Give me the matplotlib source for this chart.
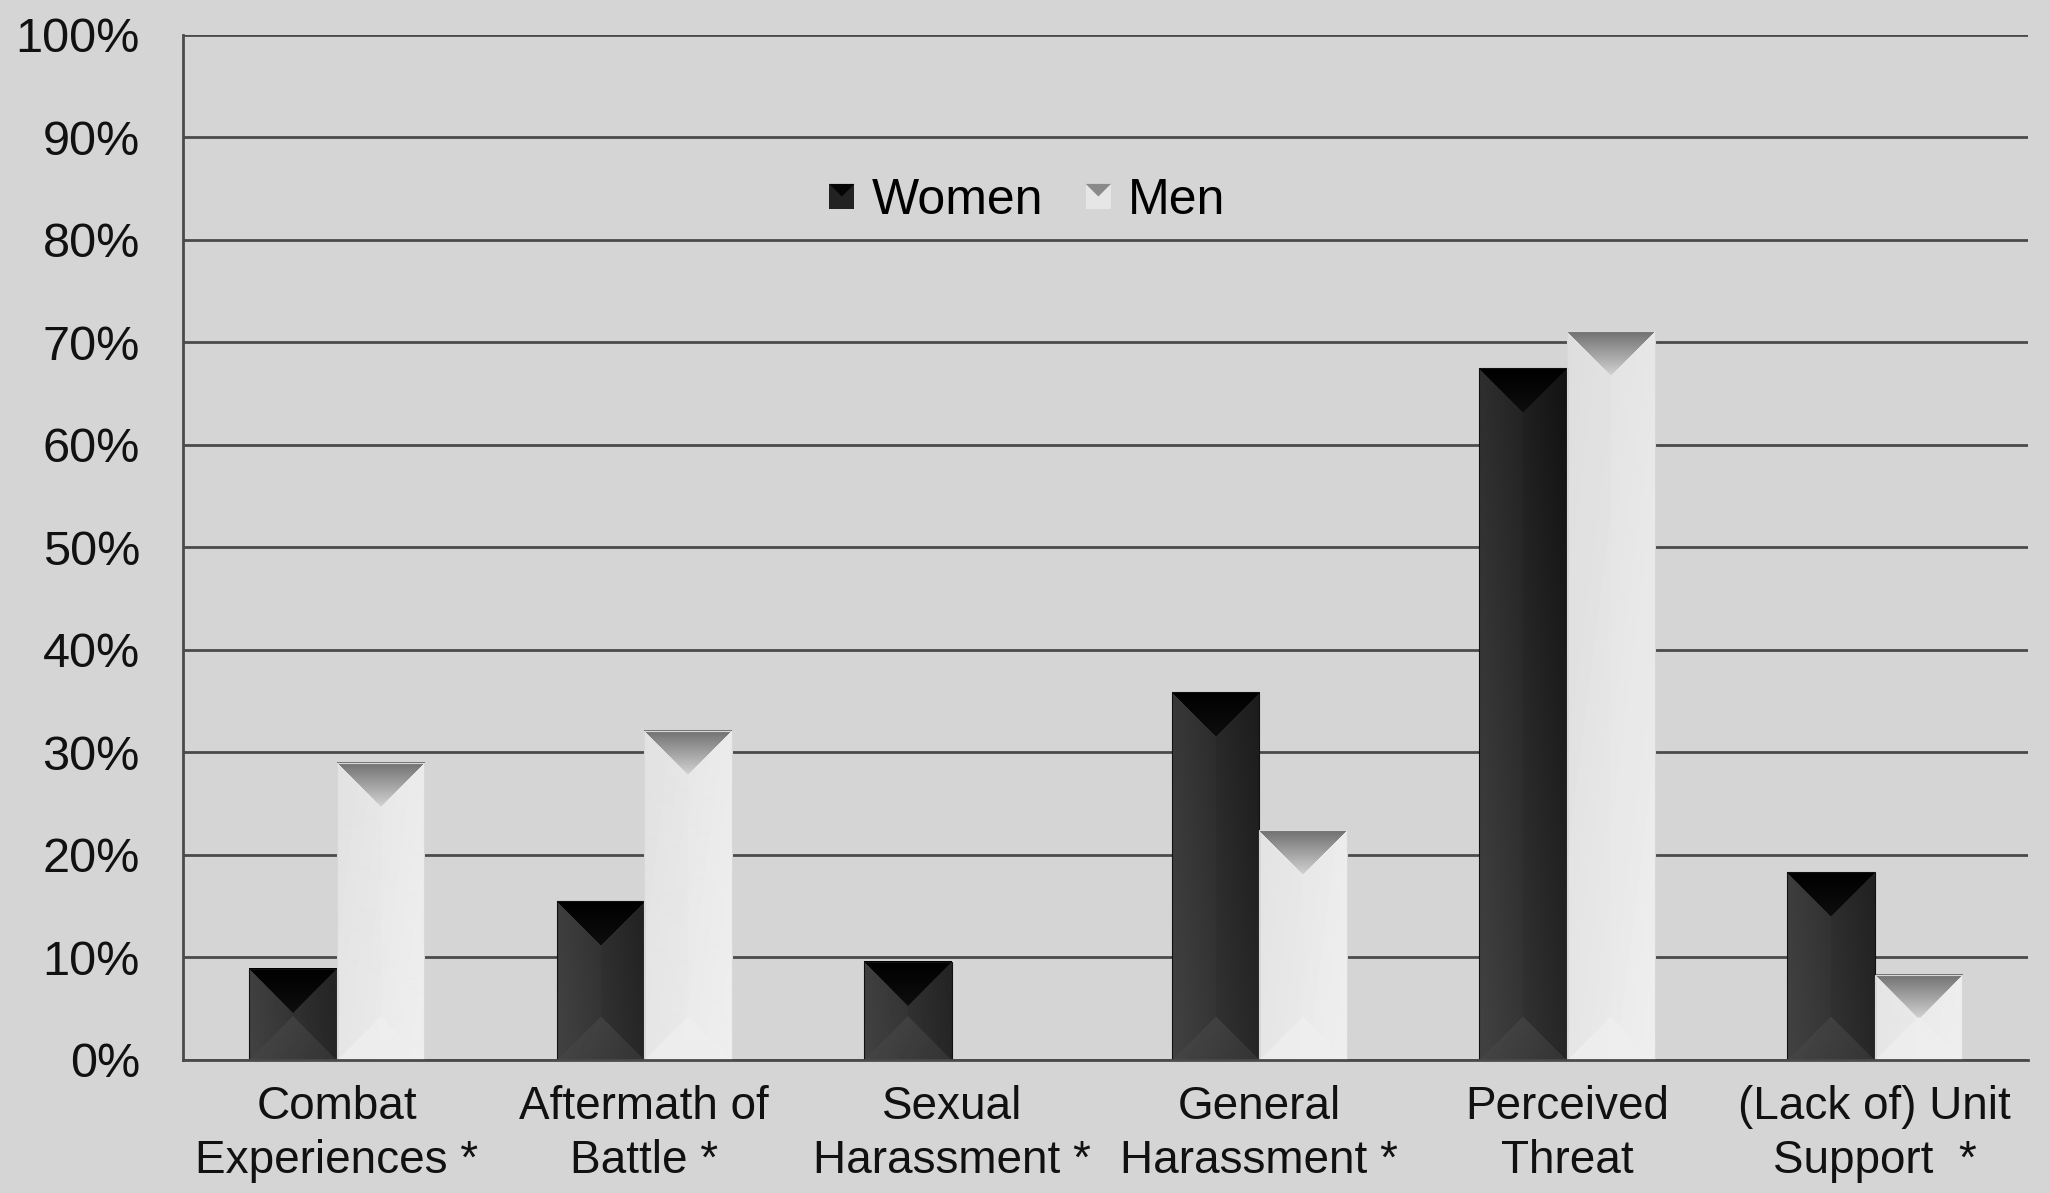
import numpy as np
import matplotlib
matplotlib.use("Agg")
import matplotlib.pyplot as plt
from matplotlib.patches import Rectangle, Polygon
from matplotlib.legend_handler import HandlerBase

# ---- data -----------------------------------------------------------------
categories = [
    "Combat\nExperiences *",
    "Aftermath of\nBattle *",
    "Sexual\nHarassment *",
    "General\nHarassment *",
    "Perceived\nThreat",
    "(Lack of) Unit\nSupport  *",
]
women = [8.9, 15.5, 9.6, 35.9, 67.5, 18.3]
men = [29.0, 32.1, 0.0, 22.4, 71.1, 8.3]
series_names = ["Women", "Men"]
y_ticks = list(range(0, 101, 10))
y_tick_labels = [f"{v}%" for v in y_ticks]

# ---- style ----------------------------------------------------------------
BG = "#d5d5d5"
GRID = "#4a4a4a"
plt.rcParams["font.family"] = ["Liberation Sans", "DejaVu Sans"]

DPI = 100
fig = plt.figure(figsize=(20.49, 11.93), dpi=DPI, facecolor=BG)
ax = fig.add_axes([0.0893, 0.1115, 0.9006, 0.8592], facecolor=BG)

n = len(categories)
bar_w = 0.285
x = np.arange(n)

ax.set_xlim(-0.5, n - 0.5)
ax.set_ylim(0, 100)

# pixel scale of the data axes (for 45-degree bevels)
pos = ax.get_position()
ax_w_px = pos.width * fig.get_figwidth() * DPI
ax_h_px = pos.height * fig.get_figheight() * DPI
px_per_x = ax_w_px / n
px_per_y = ax_h_px / 100.0


def bevel_image(width_px, height_px, dark):
    """Shaded pyramid-style face for one bar, returned as a grey-level array."""
    W = max(int(round(width_px)), 2)
    H = max(int(round(height_px)), 2)
    X, Y = np.meshgrid(np.arange(W) + 0.5, np.arange(H) + 0.5)
    dl = X
    dr = W - X
    db = Y
    dt = H - Y
    hw = W / 2.0
    u = X / W
    yfrac = np.clip(Y / 700.0, 0, 1)

    d_side = np.minimum(dl, dr)
    top = (dt <= d_side) & (dt <= db)
    bottom = (db < d_side) & (db < dt)
    left = (~top) & (~bottom) & (dl <= dr)

    if dark:
        g = 0.07 + 0.10 * (1 - u) + 0.08 * (1 - yfrac)
        g = g + 0.012 * left
        g[bottom] = (0.20 + 0.07 * (1 - u) + 0.02 * (db / hw))[bottom]
        g[top] = (0.0 + 0.055 * np.clip(dt / hw, 0, 1))[top]
    else:
        g = 0.875 + 0.03 * u + 0.03 * (1 - yfrac)
        g = g - 0.006 * left
        g[bottom] = (0.925 + 0.01 * u)[bottom]
        g[top] = (0.44 + 0.38 * np.clip(dt / hw, 0, 1))[top]
    return g


def draw_bar(xc, value, dark):
    if value <= 0:
        return
    x0 = xc - bar_w / 2
    x1 = xc + bar_w / 2
    img = bevel_image(bar_w * px_per_x, value * px_per_y, dark)
    ax.imshow(img, extent=(x0, x1, 0, value), origin="lower", cmap="gray",
              vmin=0, vmax=1, aspect="auto", interpolation="bilinear",
              zorder=3)
    edge = "#111111" if dark else "#d8d8d8"
    ax.add_patch(Rectangle((x0, 0), bar_w, value, facecolor="none",
                           edgecolor=edge, linewidth=0.8, zorder=4))


for i in range(n):
    draw_bar(x[i] - bar_w / 2, women[i], dark=True)
    draw_bar(x[i] + bar_w / 2, men[i], dark=False)

ax.set_xlim(-0.5, n - 0.5)
ax.set_ylim(0, 100)

# ---- axes -----------------------------------------------------------------
ax.set_yticks(y_ticks)
ax.set_yticklabels(y_tick_labels, fontsize=35, color="#111111")
ax.set_xticks(x)
ax.set_xticklabels(categories, fontsize=33, color="#111111", linespacing=1.28)
ax.tick_params(axis="y", length=0, pad=31)
ax.tick_params(axis="x", length=0, pad=18)

ax.yaxis.grid(True, color=GRID, linewidth=2.0)
ax.set_axisbelow(True)
for side in ("top", "right"):
    ax.spines[side].set_visible(False)
for side in ("left", "bottom"):
    ax.spines[side].set_color(GRID)
    ax.spines[side].set_linewidth(2.0)
    ax.spines[side].set_zorder(5)


# ---- legend ---------------------------------------------------------------
class BevelHandler(HandlerBase):
    def __init__(self, face, cap):
        super().__init__()
        self.face = face
        self.cap = cap

    def create_artists(self, legend, orig_handle, xdescent, ydescent,
                       width, height, fontsize, trans):
        s = height * 0.72
        x0 = -xdescent + (width - s) / 2
        y0 = -ydescent + (height - s) / 2
        rect = Rectangle((x0, y0), s, s, facecolor=self.face,
                         edgecolor="none", transform=trans)
        tri = Polygon([(x0, y0 + s), (x0 + s, y0 + s), (x0 + s / 2, y0 + s / 2)],
                      facecolor=self.cap, edgecolor="none", transform=trans)
        return [rect, tri]


h_w = Rectangle((0, 0), 1, 1)
h_m = Rectangle((0, 0), 1, 1)
ax.legend([h_w, h_m], series_names,
          handler_map={h_w: BevelHandler("#222222", "#050505"),
                       h_m: BevelHandler("#e6e6e6", "#8a8a8a")},
          loc="center", bbox_to_anchor=(0.457, 0.838), ncol=2,
          frameon=False, fontsize=36, handlelength=0.6, handletextpad=0.3,
          columnspacing=0.8)

fig.savefig("out.png", dpi=DPI, facecolor=BG)
